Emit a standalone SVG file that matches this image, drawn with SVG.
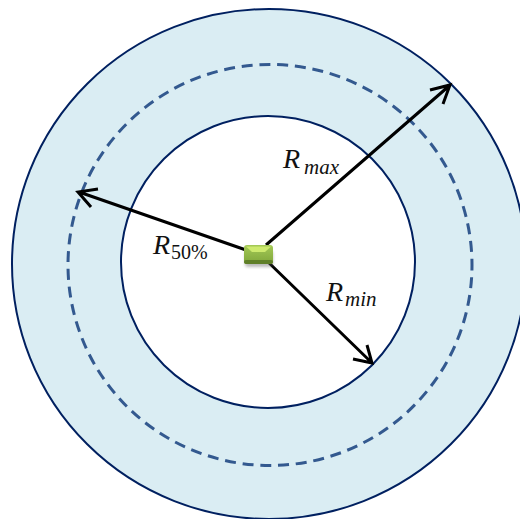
<svg xmlns="http://www.w3.org/2000/svg" width="520" height="519" viewBox="0 0 520 519">
<style>
.a{fill:none;stroke:#000;stroke-width:3;stroke-linejoin:miter}
text{font-family:"Liberation Serif",serif;fill:#111}
.m{font-style:italic;font-size:28px}
.s{font-style:italic;font-size:21px}
.n{font-size:20px}
</style>
<defs>
<linearGradient id="g" x1="0" y1="0" x2="0" y2="1"><stop offset="0" stop-color="#a4c957"/><stop offset="1" stop-color="#7fa63a"/></linearGradient>
<filter id="sh" x="-30%" y="-30%" width="160%" height="180%"><feGaussianBlur stdDeviation="1.500"/></filter>
</defs>
<rect width="520" height="519" fill="#fff"/>
<g id="outer-ring"><ellipse cx="269" cy="264" rx="257" ry="255" fill="#daedf3" stroke="#002060" stroke-width="2"/></g>
<g id="median-ring"><ellipse cx="270" cy="265" rx="202" ry="200.500" fill="none" stroke="#33598f" stroke-width="3" stroke-dasharray="11 6.790" stroke-dashoffset="5.500"/></g>
<g id="inner-ring"><ellipse cx="268" cy="262" rx="147" ry="146" fill="#fff" stroke="#002060" stroke-width="2"/></g>
<g id="connectors">
<path class="a" d="M266 245L449 86M430 90L450 85L443 104"/>
<path class="a" d="M246 250L79 192M98 189L78 192L91 207"/>
<path class="a" d="M266 260L371 362M367 345L372 363L353 359"/>
</g>
<g id="center">
<rect x="245" y="251" width="28" height="16" rx="3" fill="#555" opacity=".4" filter="url(#sh)"/>
<rect x="244" y="245" width="29" height="19" rx="3" fill="url(#g)"/>
<path d="M246 246.500H271L265 252H252Z" fill="#cdea6e"/>
<rect x="244" y="260" width="29" height="4" rx="2" fill="#5f7f28"/>
</g>
<g id="label-max"><text x="283" y="168" class="m">R</text><text x="304" y="174" class="s">max</text></g>
<g id="label-50"><text x="153" y="254" class="m">R</text><text x="171" y="259" class="n">50%</text></g>
<g id="label-min"><text x="326" y="301" class="m">R</text><text x="345" y="306" class="s">min</text></g>
</svg>
